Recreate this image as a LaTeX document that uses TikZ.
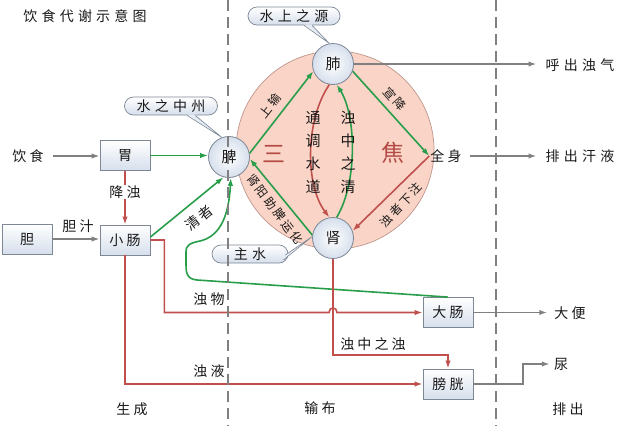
\documentclass[tikz,border=0pt]{standalone}
\usepackage{fontspec}
\usetikzlibrary{arrows.meta,calc}
\newfontfamily\cjk{Noto Sans CJK SC}[LetterSpace=22]
\newfontfamily\cjks{Noto Sans CJK SC}[LetterSpace=30]
\newfontfamily\cjkt{Noto Sans CJK SC}[LetterSpace=20]
\newfontfamily\cjkn{Noto Sans CJK SC}
\definecolor{gline}{RGB}{40,158,75}
\definecolor{rline}{RGB}{192,80,77}
\definecolor{aline}{RGB}{128,128,128}
\definecolor{sjfill}{RGB}{250,212,198}
\definecolor{sjdraw}{RGB}{190,150,140}
\definecolor{boxdraw}{RGB}{125,135,150}
\definecolor{boxfill}{RGB}{214,223,236}
\definecolor{sjtext}{RGB}{180,75,70}
\definecolor{txtc}{RGB}{25,25,25}
\begin{document}
\begin{tikzpicture}[x=1pt,y=-1pt,
  txt/.style={font=\cjk\fontsize{14}{16}\selectfont, inner sep=1pt, text=txtc},
  wtxt/.style={font=\cjks\fontsize{14}{16}\selectfont, inner sep=1pt, text=txtc},
  stxt/.style={font=\cjkt\fontsize{12}{13}\selectfont, inner sep=0pt, text=txtc},
  vtxt/.style={font=\cjkn\fontsize{15}{23}\selectfont, align=center, inner sep=0pt, text=txtc},
  sjlabel/.style={font=\cjkn\fontsize{23}{25}\selectfont, text=sjtext},
  boxnode/.style={draw=boxdraw, line width=0.8pt, top color=white, bottom color=boxfill,
     minimum width=50pt, minimum height=30pt, inner sep=0pt, font=\cjk\fontsize{14}{16}\selectfont, text=txtc},
  organ/.style={circle, draw=boxdraw, line width=0.8pt, inner color=white, outer color=boxfill,
     minimum size=41pt, inner sep=0pt, font=\cjkn\fontsize{15}{17}\selectfont, text=txtc},
  callout/.style={rounded corners=9pt, draw=boxdraw, line width=0.7pt, top color=white, bottom color=boxfill,
     minimum height=18pt, inner sep=0pt, font=\cjks\fontsize{14}{16}\selectfont, text=txtc},
  tailfill/.style={fill=boxfill!60},
  tailline/.style={draw=boxdraw, line width=0.6pt},
  sjcircle/.style={circle, fill=sjfill, draw=sjdraw, line width=0.7pt, minimum size=198pt, inner sep=0pt},
  garrow/.style={draw=gline, line width=1.6pt, -{Latex[length=8pt,width=5.5pt]}},
  rarrow/.style={draw=rline, line width=1.6pt, -{Latex[length=8pt,width=5.5pt]}},
  aarrow/.style={draw=aline, line width=1.6pt, -{Latex[length=8pt,width=5.5pt]}},
  dashline/.style={draw=aline, line width=1.5pt, dash pattern=on 11pt off 6pt}
]
\useasboundingbox (0,0) rectangle (640,426);

% title
\node[wtxt] (title) at (85,16.5) {饮食代谢示意图};

% san jiao
\node[sjcircle] (sj) at (335,150) {};
\node[sjlabel] (san) at (274,154) {三};
\node[sjlabel] (jiao) at (393,153) {焦};

% organs
\node[organ] (fei) at (333,64) {肺};
\node[organ] (pi) at (229,157) {脾};
\node[organ] (shen) at (333,238) {肾};
\node[txt] (qs) at (446,156) {全身};

% boxes
\node[boxnode] (wei) at (125,155.5) {胃};
\node[boxnode] (xc) at (125,240) {小肠};
\node[boxnode] (dan) at (27,239) {胆};
\node[boxnode] (dc) at (448,312.5) {大肠};
\node[boxnode] (bg) at (448,384) {膀胱};

% inner arrows
\draw[rarrow] (fei.260) .. controls (305,120) and (305,185) .. (shen.100);
\draw[garrow] (shen.80) .. controls (358,182) and (356,115) .. (fei.280);
\node[vtxt] (ttsd) at (313,152.5) {通\\调\\水\\道};
\node[vtxt] (zzzq) at (348,152.5) {浊\\中\\之\\清};
\draw[garrow] (pi.10) -- (fei.200);
\node[stxt, rotate=52] (shangshu) at (270,106) {上输};
\draw[garrow] (fei.-20) -- (qs.west);
\node[stxt, rotate=-49] (xuanjiang) at (395,99) {宣降};
\draw[rarrow] (qs.west) -- (shen.20);
\node[stxt, rotate=47] (zzxz) at (401,205) {浊者下注};
\draw[garrow] (shen.172) -- (pi.-5);
\node[stxt, rotate=-53] (syzp) at (275,209) {肾阳助脾运化};

% left side
\node[txt] (ys) at (28,156) {饮食};
\draw[aarrow, shorten <=8pt] (ys.east) -- (ys.east -| wei.west);
\draw[garrow] (wei.east) -- (wei.east -| pi.west);
\draw[rarrow] (wei.south) -- (xc.north);
\node[txt, fill=white] (jz) at (125,192) {降浊};
\draw[aarrow] (dan.east) -- (dan.east -| xc.west);
\node[txt] (dz) at (78,226) {胆汁};
\draw[garrow] ($(xc.east)+(0,-3)$) -- (pi.255);
\node[txt, rotate=39] (qz) at (199,218) {清者};

% green return from large intestine
\draw[garrow] (dc.north) -- (197,280) .. controls (186,279) and (186,272) .. (186,262)
  -- (186,252) .. controls (186,245) and (190,243) .. (200,241)
  .. controls (222,236) and (229,212) .. (pi.275);

% red paths
\coordinate (hop) at (shen.south |- dc.west);
\draw[rarrow] (xc.east) -- ++(14,0) |- ($(hop)+(-4,0)$)
  .. controls ($(hop)+(-4,-6)$) and ($(hop)+(4,-6)$) .. ($(hop)+(4,0)$) -- (dc.west);
\node[txt] (zw) at (209,299) {浊物};
\draw[rarrow] (xc.south) |- (bg.west);
\node[txt] (zy) at (209,371) {浊液};
\draw[rarrow] (shen.south) -- ++(0,96) -| (bg.north);
\node[txt] (zzzz) at (373,344) {浊中之浊};

% outputs
\node[wtxt] (hc) at (580,65) {呼出浊气};
\node[wtxt] (pc) at (580,156) {排出汗液};
\node[txt] (db) at (570,313) {大便};
\node[txt] (niao) at (561,364) {尿};
\draw[aarrow, shorten >=8pt] (fei.east) -- (fei.east -| hc.west);
\draw[aarrow, shorten <=7pt, shorten >=8pt] (qs.east) -- (qs.east -| pc.west);
\draw[aarrow, shorten >=6pt] (dc.east) -- (dc.east -| db.west);
\coordinate (nbend) at (523,364);
\draw[aarrow, shorten >=3pt] (bg.east) -| (nbend) -- (nbend -| niao.west);

% callouts
\node[callout, minimum width=93pt] (szz) at (171,106) {水之中州};
\fill[tailfill] ($(szz.south)+(16,-1)$) -- (pi.110) -- ($(szz.south)+(24,-1)$) -- cycle;
\draw[tailline] ($(szz.south)+(16,0)$) -- (pi.110) -- ($(szz.south)+(24,0)$);
\node[callout, minimum width=92pt] (ssy) at (294,16) {水上之源};
\fill[tailfill] ($(ssy.south)+(10,-1)$) -- (fei.100) -- ($(ssy.south)+(18,-1)$) -- cycle;
\draw[tailline] ($(ssy.south)+(10,0)$) -- (fei.100) -- ($(ssy.south)+(18,0)$);
\node[callout, minimum width=76pt] (zs) at (250,254) {主水};
\fill[tailfill] ($(zs.east)+(-4,1)$) -- (shen.176) -- ($(zs.east)+(-5,6)$) -- cycle;
\draw[tailline] ($(zs.east)+(-3,1)$) -- (shen.176) -- ($(zs.east)+(-5,6)$);

% stage labels
\node[txt] (sc) at (132,409) {生成};
\node[txt] (sb) at (320,408) {输布};
\node[txt] (pcx) at (568,409) {排出};

% dashed separators
\coordinate (d1t) at (228,0);
\coordinate (d1b) at (228,426);
\coordinate (d2t) at (496,0);
\coordinate (d2b) at (496,426);
\draw[dashline] (d1t) -- (d1b);
\draw[dashline] (d2t) -- (d2b);
\end{tikzpicture}
\end{document}
